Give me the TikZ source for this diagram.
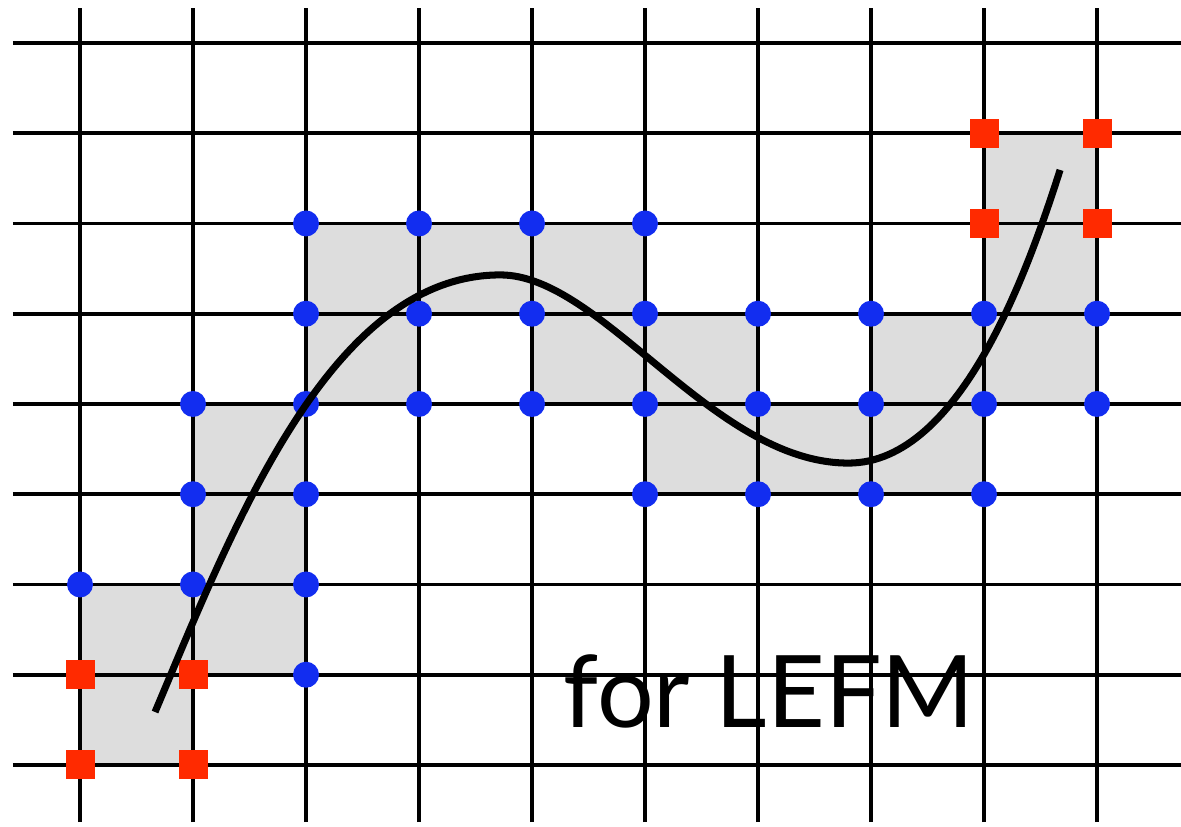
\documentclass[tikz,border=0pt]{standalone}
\usepackage{fontspec}
\setmainfont{Lato}
\definecolor{cellgray}{RGB}{221,221,221}
\definecolor{dotblue}{RGB}{18,45,240}
\definecolor{sqred}{RGB}{255,42,0}
\begin{document}
\begin{tikzpicture}[
  x=2.26cm, y=1.805cm,
  cell/.style={fill=cellgray},
  gridline/.style={line width=2.2pt, black},
  crack/.style={line width=4pt, black},
  enriched/.style={circle, fill=dotblue, inner sep=0pt, minimum size=0.52cm},
  tipnode/.style={rectangle, fill=sqred, inner sep=0pt, minimum size=0.58cm},
  caption/.style={inner sep=0pt, anchor=base west, font=\fontsize{57}{60}\selectfont}
]
  \useasboundingbox (-0.708,-0.687) rectangle (9.743,8.476);

  % ── Cut cells ──────────────────────────────────────────────────────────
  \foreach \i/\j in {0/0,0/1,1/1,1/2,1/3,2/4,2/5,3/5,4/5,4/4,5/4,5/3,6/3,7/3,7/4,8/4,8/5,8/6}
    \fill[cell] (\i,\j) rectangle ++(1,1);

  % ── Mesh ───────────────────────────────────────────────────────────────
  \foreach \i in {0,...,9}
    \draw[gridline] (\i,-0.632) -- (\i,8.388);
  \foreach \j in {0,...,8}
    \draw[gridline] (-0.593,\j) -- (9.743,\j);

  % ── Enriched nodes (Heaviside) ─────────────────────────────────────────
  \foreach \i/\j in {2/6,3/6,4/6,5/6,
                     2/5,3/5,4/5,5/5,6/5,7/5,8/5,9/5,
                     1/4,2/4,3/4,4/4,5/4,6/4,7/4,8/4,9/4,
                     1/3,2/3,5/3,6/3,7/3,8/3,
                     0/2,1/2,2/2,
                     2/1}
    \node[enriched] (h-\i-\j) at (\i,\j) {};

  % ── Crack-tip nodes ────────────────────────────────────────────────────
  \foreach \i/\j in {0/0,1/0,0/1,1/1,8/6,9/6,8/7,9/7}
    \node[tipnode] (t-\i-\j) at (\i,\j) {};

  % ── Crack ──────────────────────────────────────────────────────────────
  \coordinate (crackA) at (0.664,0.587);
  \coordinate (crackB) at (8.673,6.593);
  \draw[crack] (crackA) .. controls (1.368,2.677) and (2.22,5.43) .. (3.72,5.43)
                        .. controls (4.62,5.43) and (5.60,3.345) .. (6.80,3.345)
                        .. controls (7.80,3.345) and (8.40,5.527) .. (crackB);

  % ── Label ──────────────────────────────────────────────────────────────
  \node[caption] (label) at (4.275,0.41) {for LEFM};
\end{tikzpicture}
\end{document}
